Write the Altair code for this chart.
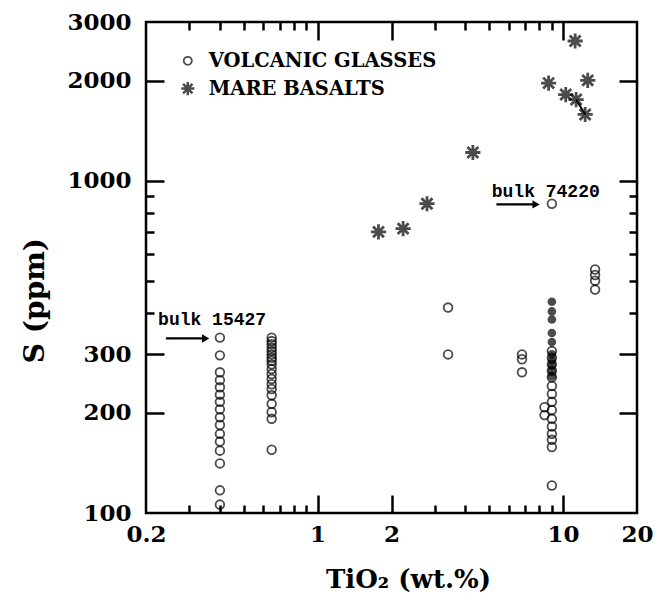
import altair as alt
import pandas as pd

# ---------------- data ----------------
# Volcanic glasses: open circles, grouped by TiO2 column
glass_cols_x = [0.4, 0.65, 3.4, 6.8, 9.0, 8.4, 13.5]
glass_cols_y = [
    [337, 298, 265, 251, 239, 227, 216, 205, 194, 184, 173, 164, 154, 141, 117, 106],
    [337, 329, 322, 314, 307, 300, 293, 287, 280, 271, 262, 253, 244, 236, 226, 213, 201, 192, 155],
    [415, 300],
    [300, 290, 265],
    [852, 307, 293, 280, 268, 256, 241, 228, 216, 204, 192, 182, 173, 166, 158, 121],
    [208, 197],
    [540, 520, 500, 470],
]
# filled circles
filled_x = 9.0
filled_y = [432, 404, 382, 348, 327, 300, 288, 278, 268, 258]

# Mare basalts: asterisks
basalt_x = [1.77, 2.23, 2.79, 4.29, 8.73, 10.25, 11.3, 12.3, 12.6, 11.2]
basalt_y = [701, 717, 852, 1215, 1965, 1815, 1753, 1581, 2002, 2630]
# short connecting stroke between two basalts
link_x = [11.3, 12.3]
link_y = [1753, 1581]

# legend
legend_labels = ["VOLCANIC GLASSES", "MARE BASALTS"]
legend_sym_x = 0.296
legend_text_x = 0.36
legend_y = [2292, 1891]

# annotations
note_labels = ["bulk 15427", "bulk 74220"]
note_x = [0.224, 5.12]
note_y = [382, 923]
arrow_x1 = [0.241, 5.35]
arrow_x2 = [0.35, 7.76]
arrow_y = [335, 848]

# axis ticks / labels
x_label_vals = [0.2, 1, 2, 10, 20]
y_label_vals = [100, 200, 300, 1000, 2000, 3000]
x_tick_vals = [0.3, 0.4, 0.5, 0.6, 0.7, 0.8, 0.9, 1, 2, 3, 4, 5, 6, 7, 8, 9, 10]
x_major = [1, 2, 10]
y_tick_vals = [200, 300, 400, 500, 600, 700, 800, 900, 1000, 2000]
y_major = [200, 300, 1000, 2000]

# ---------------- frames ----------------
gx, gy = [], []
for cx, ys in zip(glass_cols_x, glass_cols_y):
    for v in ys:
        gx.append(cx)
        gy.append(v)
glass_df = pd.DataFrame({"x": gx, "y": gy})
filled_df = pd.DataFrame({"x": [filled_x] * len(filled_y), "y": filled_y})
basalt_df = pd.DataFrame({"x": basalt_x, "y": basalt_y})
link_df = pd.DataFrame({"x": link_x, "y": link_y})
leg_df = pd.DataFrame({"label": legend_labels, "sx": [legend_sym_x] * 2,
                       "tx": [legend_text_x] * 2, "y": legend_y})
note_df = pd.DataFrame({"label": note_labels, "x": note_x, "y": note_y})
arrow_df = pd.DataFrame({"x1": arrow_x1, "x2": arrow_x2, "y": arrow_y})

W, H = 491, 491
SERIF = "DejaVu Serif"
MONO = "Liberation Mono"

xs = alt.Scale(type="log", domain=[0.2, 20], nice=False)
ys_ = alt.Scale(type="log", domain=[100, 3000], nice=False)


def tick_size(major):
    return {"condition": {"test": "indexof(%s, datum.value) >= 0" % str(major), "value": 18},
            "value": 8}


def tick_axis(orient, vals, major, offset):
    return alt.Axis(orient=orient, values=vals, labels=False, domain=False, grid=False,
                    ticks=True, tickColor="black", tickWidth=2.5,
                    tickSize=tick_size(major), offset=offset, title=None)


x_lab_axis = alt.Axis(orient="bottom", values=x_label_vals, format="~g", ticks=False,
                      tickSize=0, domain=False, grid=False, labelFont=SERIF,
                      labelFontSize=23, labelFontWeight="bold", labelColor="black",
                      labelPadding=10, labelFlush=False, labelOverlap=False, labelBound=False,
                      title="TiO₂ (wt.%)", titleFont=SERIF, titleFontSize=26,
                      titleFontWeight="bold", titleColor="black", titleX=262, titleY=66,
                      titleAlign="center", titleBaseline="middle")
y_lab_axis = alt.Axis(orient="left", values=y_label_vals, format="~g", ticks=False,
                      tickSize=0, domain=False, grid=False, labelFont=SERIF,
                      labelFontSize=23, labelFontWeight="bold", labelColor="black",
                      labelPadding=15, labelFlush=False, labelOverlap=False, labelBound=False,
                      title="S (ppm)", titleFont=SERIF, titleFontSize=28,
                      titleFontWeight="bold", titleColor="black", titleX=-111, titleY=278,
                      titleAlign="center", titleBaseline="middle", titleAngle=270)

glass = alt.Chart(glass_df).mark_point(shape="circle", filled=False, size=75,
                                        strokeWidth=1.8, color="black").encode(
    x=alt.X("x:Q", scale=xs, axis=x_lab_axis),
    y=alt.Y("y:Q", scale=ys_, axis=y_lab_axis),
)

STAR = "M-1,0L1,0M0,-1L0,1M-0.72,-0.72L0.72,0.72M-0.72,0.72L0.72,-0.72"

basalt = alt.Chart(basalt_df).mark_point(shape=STAR, filled=False, size=230,
                                          strokeWidth=2.8, color="black").encode(
    x=alt.X("x:Q", scale=xs, axis=tick_axis("top", x_tick_vals, x_major, -H)),
    y=alt.Y("y:Q", scale=ys_, axis=tick_axis("right", y_tick_vals, y_major, -W)),
)

filled = alt.Chart(filled_df).mark_point(shape="circle", filled=True, size=75,
                                          color="black").encode(
    x=alt.X("x:Q", scale=xs, axis=tick_axis("bottom", x_tick_vals, x_major, -H)),
    y=alt.Y("y:Q", scale=ys_, axis=tick_axis("left", y_tick_vals, y_major, -W)),
)

link = alt.Chart(link_df).mark_line(color="black", strokeWidth=2).encode(
    x=alt.X("x:Q", scale=xs, axis=None), y=alt.Y("y:Q", scale=ys_, axis=None))

leg_circle = alt.Chart(leg_df.iloc[[0]]).mark_point(shape="circle", filled=False, size=65,
                                                     strokeWidth=1.8, color="black").encode(
    x=alt.X("sx:Q", scale=xs, axis=None), y=alt.Y("y:Q", scale=ys_, axis=None))
leg_star = alt.Chart(leg_df.iloc[[1]]).mark_point(shape=STAR, filled=False, size=170,
                                                   strokeWidth=2.5, color="black").encode(
    x=alt.X("sx:Q", scale=xs, axis=None), y=alt.Y("y:Q", scale=ys_, axis=None))
leg_text = alt.Chart(leg_df).mark_text(align="left", baseline="middle", font=SERIF,
                                        fontSize=19.5, fontWeight="bold", color="black").encode(
    x=alt.X("tx:Q", scale=xs, axis=None), y=alt.Y("y:Q", scale=ys_, axis=None),
    text="label:N")

notes = alt.Chart(note_df).mark_text(align="left", baseline="middle", font=MONO,
                                      fontSize=18, fontWeight="bold", color="black").encode(
    x=alt.X("x:Q", scale=xs, axis=None), y=alt.Y("y:Q", scale=ys_, axis=None),
    text="label:N")

arrows = alt.Chart(arrow_df).mark_rule(color="black", strokeWidth=2.2).encode(
    x=alt.X("x1:Q", scale=xs, axis=None), x2="x2:Q",
    y=alt.Y("y:Q", scale=ys_, axis=None))
heads = alt.Chart(arrow_df).mark_point(shape="triangle-right", filled=True, size=70,
                                        color="black", opacity=1).encode(
    x=alt.X("x2:Q", scale=xs, axis=None), y=alt.Y("y:Q", scale=ys_, axis=None))

chart = alt.layer(glass, basalt, filled, link, leg_circle, leg_star, leg_text,
                  notes, arrows, heads).resolve_axis(
    x="independent", y="independent"
).properties(
    width=W, height=H,
    autosize=alt.AutoSizeParams(type="none"),
    padding={"left": 138, "top": 14, "right": 16, "bottom": 80},
    background="white",
).configure_view(stroke="black", strokeWidth=2.5)

chart.save("out.html", embed_options={"renderer": "svg", "actions": False})
